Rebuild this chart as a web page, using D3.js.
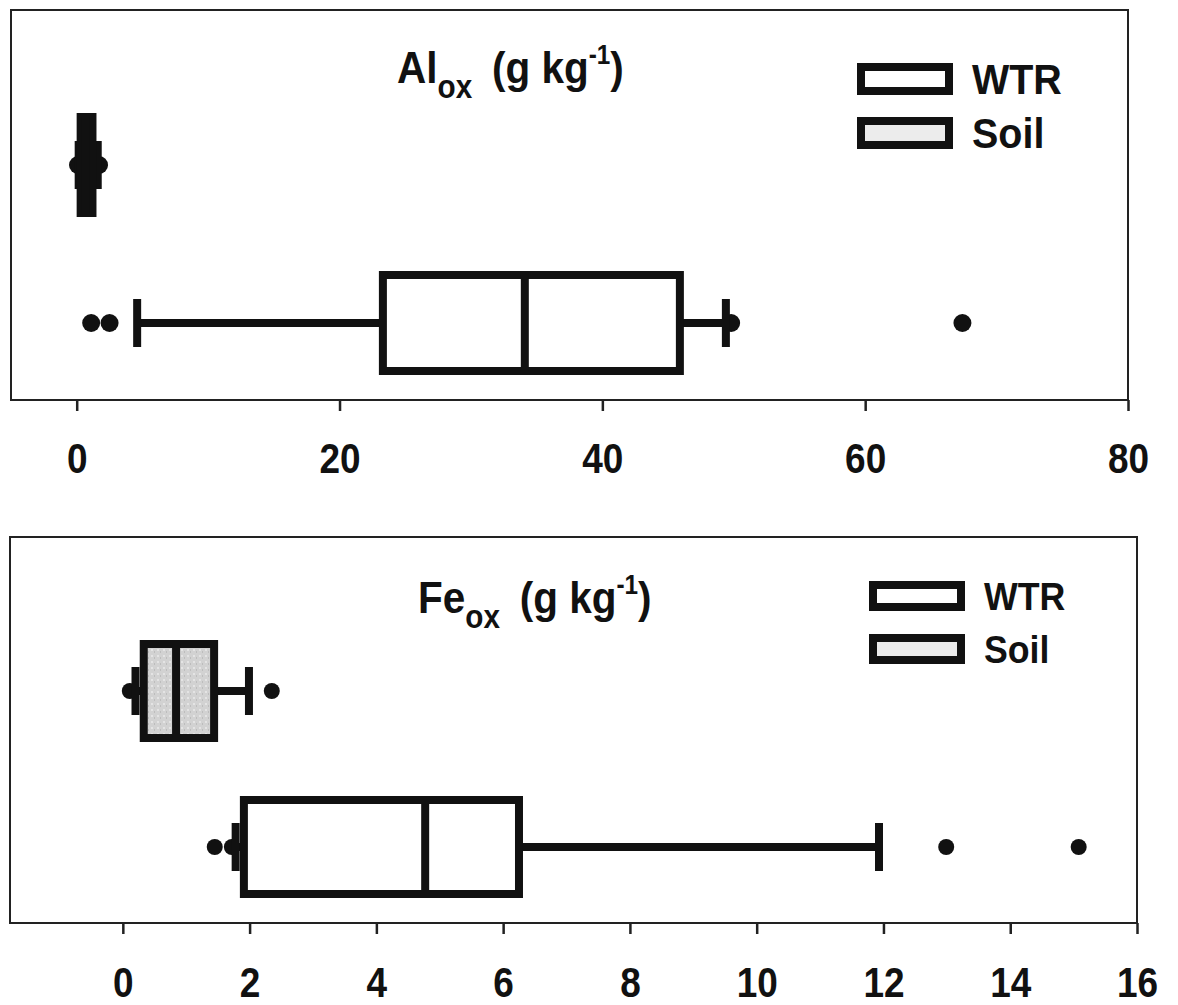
<!DOCTYPE html>
<html>
<head>
<meta charset="utf-8">
<script src="https://cdn.jsdelivr.net/npm/d3@7"></script>
<style>
  body { margin: 0; background: #fff; }
  text { font-family: "Liberation Sans", Arial, sans-serif; font-weight: bold; fill: #111; }
</style>
</head>
<body>
<div id="chart"></div>
<script>
// box plot groups
const categories = ["Soil", "WTR"];

// Al oxalate (g/kg)
const alWhiskerLow = [0.15, 4.6];
const alQ1 = [0.3, 23.3];
const alMedian = [0.7, 34.1];
const alQ3 = [1.2, 45.9];
const alWhiskerHigh = [1.6, 49.4];
const alOutliers = [[0.1, 1.7], [1.1, 2.5, 49.8, 67.4]];
const alTicks = [0, 20, 40, 60, 80];

// Fe oxalate (g/kg)
const feWhiskerLow = [0.2, 1.78];
const feQ1 = [0.33, 1.91];
const feMedian = [0.84, 4.77];
const feQ3 = [1.44, 6.25];
const feWhiskerHigh = [1.99, 11.93];
const feOutliers = [[0.11, 2.35], [1.45, 1.72, 12.99, 15.08]];
const feTicks = [0, 2, 4, 6, 8, 10, 12, 14, 16];

const legendLabels = ["WTR", "Soil"];

const width = 1178, height = 1005;
const svg = d3.select("#chart").append("svg")
    .attr("width", width)
    .attr("height", height);

// speckled grey fill used for the soil boxes
const defs = svg.append("defs");
const pat = defs.append("pattern")
    .attr("id", "speckle").attr("patternUnits", "userSpaceOnUse")
    .attr("width", 6).attr("height", 6);
pat.append("rect").attr("width", 6).attr("height", 6).attr("fill", "#d2d2d2");
pat.append("rect").attr("x", 1).attr("y", 1).attr("width", 2).attr("height", 2).attr("fill", "#e4e4e4");
pat.append("rect").attr("x", 4).attr("y", 3).attr("width", 1).attr("height", 2).attr("fill", "#bdbdbd");

function drawPanel(p) {
    const x = d3.scaleLinear().domain(p.domain).range([p.left, p.right]);
    const y = d3.scalePoint().domain(categories).range(p.yRange);
    const g = svg.append("g");

    const rows = categories.map((c, i) => ({
        cat: c,
        lo: p.whiskerLow[i], q1: p.q1[i], med: p.median[i],
        q3: p.q3[i], hi: p.whiskerHigh[i], out: p.outliers[i]
    }));

    // frame
    g.append("rect")
        .attr("x", p.left).attr("y", p.top)
        .attr("width", p.right - p.left).attr("height", p.bottom - p.top)
        .attr("fill", "none").attr("stroke", "#222").attr("stroke-width", 2);

    // axis
    const axis = g.append("g")
        .attr("transform", `translate(0,${p.bottom})`)
        .call(d3.axisBottom(x).tickValues(p.ticks).tickSize(11).tickPadding(p.pad).tickFormat(d3.format("d")));
    axis.select(".domain").remove();
    axis.selectAll(".tick line").attr("stroke", "#222").attr("stroke-width", 2.5);
    axis.selectAll(".tick text")
        .attr("fill", "#111")
        .attr("transform", "scale(0.88,1)")
        .style("font-family", "'Liberation Sans', Arial, sans-serif")
        .style("font-weight", "bold")
        .style("font-size", "42px");

    const sw = 8;
    rows.forEach(r => {
        const cy = y(r.cat);
        const grp = g.append("g");
        grp.selectAll("circle").data(r.out).join("circle")
            .attr("cx", d => x(d)).attr("cy", cy).attr("r", p.dotR).attr("fill", "#111");
        grp.append("line")
            .attr("x1", x(r.lo)).attr("x2", x(r.hi)).attr("y1", cy).attr("y2", cy)
            .attr("stroke", "#111").attr("stroke-width", sw);
        grp.selectAll(".cap").data([r.lo, r.hi]).join("line")
            .attr("class", "cap")
            .attr("x1", d => x(d)).attr("x2", d => x(d))
            .attr("y1", cy - p.capH).attr("y2", cy + p.capH)
            .attr("stroke", "#111").attr("stroke-width", sw);
        grp.append("rect")
            .attr("x", x(r.q1)).attr("y", cy - p.boxH)
            .attr("width", x(r.q3) - x(r.q1)).attr("height", 2 * p.boxH)
            .attr("fill", r.cat === "Soil" ? "url(#speckle)" : "#fff")
            .attr("stroke", "#111").attr("stroke-width", sw);
        grp.append("line")
            .attr("x1", x(r.med)).attr("x2", x(r.med))
            .attr("y1", cy - p.boxH).attr("y2", cy + p.boxH)
            .attr("stroke", "#111").attr("stroke-width", sw);
    });

    // title with sub/superscripts, slightly condensed like the original
    const t = g.append("text")
        .attr("transform", `translate(${p.titleX},${p.titleY}) scale(0.9,1)`)
        .style("font-size", "45px");
    t.append("tspan").text(p.element);
    t.append("tspan").attr("dy", 15).style("font-size", "33px").text("ox");
    t.append("tspan").attr("dy", -15).attr("dx", 22).text("(g kg");
    t.append("tspan").attr("dy", -19).style("font-size", "27px").text("-1");
    t.append("tspan").attr("dy", 19).text(")");

    // legend
    const lg = g.append("g");
    legendLabels.forEach((lab, i) => {
        const ly = p.legendY + i * p.legendStep;
        lg.append("rect")
            .attr("x", p.legendX).attr("y", ly - p.legendH / 2)
            .attr("width", 88).attr("height", p.legendH)
            .attr("fill", lab === "Soil" ? "#ececec" : "#fff")
            .attr("stroke", "#111").attr("stroke-width", sw);
        lg.append("text")
            .attr("transform", `translate(${p.legendX + 111},${ly + p.legendFont * 0.36}) scale(0.94,1)`)
            .style("font-size", p.legendFont + "px")
            .text(lab);
    });
}

drawPanel({
    domain: [-5, 80], left: 11, right: 1128, top: 10, bottom: 400,
    yRange: [165, 323], boxH: 48, capH: 24, dotR: 9, pad: 32,
    whiskerLow: alWhiskerLow, q1: alQ1, median: alMedian, q3: alQ3,
    whiskerHigh: alWhiskerHigh, outliers: alOutliers, ticks: alTicks,
    element: "Al", titleX: 397, titleY: 83,
    legendX: 861, legendY: 79, legendStep: 54, legendH: 24, legendFont: 42
});

drawPanel({
    domain: [-1.78, 16], left: 10, right: 1137, top: 537, bottom: 923,
    yRange: [691, 847], boxH: 47, capH: 24, dotR: 8, pad: 33,
    whiskerLow: feWhiskerLow, q1: feQ1, median: feMedian, q3: feQ3,
    whiskerHigh: feWhiskerHigh, outliers: feOutliers, ticks: feTicks,
    element: "Fe", titleX: 418, titleY: 613,
    legendX: 873, legendY: 596, legendStep: 53, legendH: 22, legendFont: 38
});
</script>
</body>
</html>
